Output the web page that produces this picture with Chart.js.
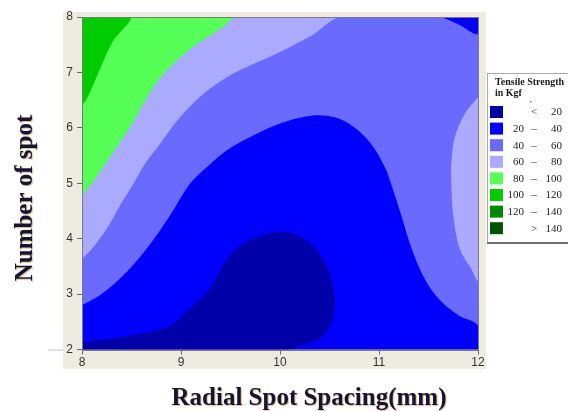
<!DOCTYPE html>
<html><head><meta charset="utf-8">
<style>html,body{margin:0;padding:0;background:#fff;overflow:hidden}</style>
<script src="https://cdn.jsdelivr.net/npm/chart.js@4/dist/chart.umd.min.js"></script>
</head><body>
<canvas id="c" width="568" height="411"></canvas>
<script>
// ---- data ----
const xTicks = [8, 9, 10, 11, 12];
const yTicks = [2, 3, 4, 5, 6, 7, 8];
const xTitle = 'Radial Spot Spacing(mm)';
const yTitle = 'Number of spot';
const legendTitle = ['Tensile Strength', 'in Kgf'];
const bandLow  = ['',  '20', '40', '60', '80', '100', '120', ''];
const bandSep  = ['<', '–',  '–',  '–',  '–',  '–',   '–',   '>'];
const bandHigh = ['20','40', '60', '80', '100','120', '140', '140'];
const bandColors = ['#0000a8', '#0000ff', '#6a6aff', '#aaaaff', '#55ff55', '#00cc00', '#008a00', '#005500'];

// plot frame corners (x, y)
const frame = [[8, 2], [12, 2], [12, 8], [8, 8]];
// contour lines (x = spacing, y = number of spot)
const contour100 = [[8, 6.43], [8.03, 6.46], [8.131, 6.85], [8.232, 7.27], [8.315, 7.57], [8.485, 8]];
const contour80 = [[8, 4.77], [8.098, 4.99], [8.215, 5.29], [8.35, 5.65], [8.485, 6.01], [8.619, 6.43],
  [8.754, 6.82], [8.922, 7.15], [9.158, 7.51], [9.394, 7.78], [9.579, 8]];
const contour60 = [[8, 3.63], [8.114, 3.85], [8.25, 4.18], [8.384, 4.6], [8.52, 4.99], [8.636, 5.35],
  [8.788, 5.71], [8.99, 6.19], [9.225, 6.61], [9.46, 6.91], [9.73, 7.15], [10.0, 7.37], [10.316, 7.66], [10.62, 8]];
const contour60right = [[12, 6.55], [11.865, 6.25], [11.765, 5.83], [11.73, 5.35], [11.73, 4.99], [11.75, 4.42],
  [11.815, 3.82], [11.93, 3.46], [12, 3.25]];
const contour40 = [[8, 2.8], [8.18, 2.98], [8.384, 3.28], [8.653, 3.82], [8.889, 4.42], [9.09, 4.99], [9.26, 5.29],
  [9.46, 5.59], [9.73, 5.86], [10.0, 6.08], [10.316, 6.22], [10.55, 6.19], [10.75, 6.01], [10.92, 5.71],
  [11.06, 5.29], [11.12, 5.0], [11.225, 4.42], [11.33, 3.82], [11.46, 3.28], [11.6, 2.92], [11.8, 2.62], [12, 2.43]];
const contour40corner = [[11.63, 8], [11.8, 7.87], [12, 7.69]];
const contour20 = [[8, 2.13], [8.485, 2.25], [8.889, 2.43], [9.09, 2.74], [9.293, 3.1], [9.427, 3.52], [9.56, 3.82],
  [9.765, 4.03], [10.0, 4.12], [10.18, 4.06], [10.35, 3.85], [10.48, 3.46], [10.55, 2.98], [10.535, 2.55],
  [10.42, 2.22], [10.215, 2.07], [10.08, 2.0]];

// ---- build polygons ----
const pt = p => ({x: p[0], y: p[1]});
const closeUp = pts => pts.concat([pts[0]]).map(pt);
const C = {bl: frame[0], br: frame[1], tr: frame[2], tl: frame[3]};

function band(data, color, order) {
  return {data, backgroundColor: color, borderColor: 'rgba(0,0,0,0)', borderWidth: 0,
    pointRadius: 0, showLine: true, fill: 'shape', tension: 0.35, order};
}
const datasets = [
  band(closeUp(frame), bandColors[4], 8),
  band(closeUp(contour80.concat([C.tr, C.br, C.bl])), bandColors[3], 7),
  band(closeUp(contour60.concat([C.tr, C.br, C.bl])), bandColors[2], 6),
  band(closeUp(contour60right), bandColors[3], 5),
  band(closeUp(contour40.concat([C.br, C.bl])), bandColors[1], 4),
  band(closeUp(contour40corner.concat([C.tr])), bandColors[1], 3),
  band(closeUp(contour20.concat([C.bl])), bandColors[0], 2),
  band(closeUp(contour100.concat([C.tl])), bandColors[5], 1)
];

const panelPlugin = {
  id: 'panel',
  beforeDraw(chart) {
    const {ctx, chartArea: a} = chart;
    ctx.save();
    ctx.fillStyle = '#efebe0';
    ctx.fillRect(a.left - 19, a.top - 5, a.right - a.left + 27, a.bottom - a.top + 24.5);
    ctx.strokeStyle = '#c8c8c8';
    ctx.lineWidth = 1;
    ctx.beginPath(); ctx.moveTo(48, a.bottom + 0.5); ctx.lineTo(a.left - 19, a.bottom + 0.5); ctx.stroke();
    ctx.restore();
  },
  afterDatasetsDraw(chart) {
    const {ctx, chartArea: a} = chart;
    ctx.save();
    ctx.strokeStyle = '#7a7a7a';
    ctx.lineWidth = 1;
    ctx.strokeRect(Math.round(a.left) + 0.5, Math.round(a.top) + 0.5, Math.round(a.right - a.left), Math.round(a.bottom - a.top));
    ctx.restore();
  }
};

const titlePlugin = {
  id: 'titles',
  afterDraw(chart) {
    const {ctx, chartArea: a} = chart;
    ctx.save();
    ctx.font = 'bold 25px "Liberation Serif", "Times New Roman", serif';
    ctx.fillStyle = '#151530';
    ctx.shadowColor = 'rgba(190,130,60,0.55)';
    ctx.shadowOffsetX = 1; ctx.shadowOffsetY = 1; ctx.shadowBlur = 1;
    ctx.textAlign = 'center'; ctx.textBaseline = 'middle';
    ctx.fillText(xTitle, a.left + 227, a.bottom + 49);
    ctx.translate(26, a.top + 181);
    ctx.rotate(-Math.PI / 2);
    ctx.fillText(yTitle, 0, 0);
    ctx.restore();
  }
};

const legendPlugin = {
  id: 'bandLegend',
  afterDraw(chart) {
    const ctx = chart.ctx;
    const L = 487, T = 73, W = 90, H = 170;
    ctx.save();
    ctx.fillStyle = '#ffffff';
    ctx.fillRect(L, T, W, H);
    ctx.strokeStyle = '#a8a8a8'; ctx.lineWidth = 1;
    ctx.strokeRect(L + 0.5, T + 0.5, W, H - 1);
    ctx.strokeStyle = '#707070'; ctx.lineWidth = 2;
    ctx.beginPath(); ctx.moveTo(L, T + H); ctx.lineTo(L + W, T + H); ctx.stroke();
    ctx.fillStyle = '#1a1a1a';
    ctx.font = 'bold 10px "Liberation Serif", serif';
    ctx.textAlign = 'left'; ctx.textBaseline = 'middle';
    ctx.fillText(legendTitle[0], L + 8, T + 9);
    ctx.fillText(legendTitle[1], L + 8, T + 20);
    ctx.fillStyle = '#888'; ctx.fillRect(L + 43, T + 28, 1.5, 1.5);
    ctx.font = '11px "Liberation Serif", serif';
    for (let i = 0; i < bandColors.length; i++) {
      const yTop = T + 33 + i * 16.6;
      ctx.fillStyle = bandColors[i];
      ctx.fillRect(L + 3, yTop, 13, 12);
      const yc = yTop + 6.5;
      ctx.fillStyle = '#222';
      ctx.textAlign = 'right';
      ctx.fillText(bandLow[i], L + 37, yc);
      ctx.fillText(bandHigh[i], L + 75, yc);
      ctx.textAlign = 'center';
      ctx.fillText(bandSep[i], L + 47, yc);
    }
    ctx.restore();
  }
};

const tickFont = {family: '"Liberation Sans", Arial, sans-serif', size: 12};
new Chart(document.getElementById('c'), {
  type: 'scatter',
  data: {datasets},
  options: {
    responsive: false, animation: false, devicePixelRatio: 1, events: [],
    layout: {padding: {top: 17, right: 90, bottom: 0, left: 0}},
    plugins: {legend: {display: false}, tooltip: {enabled: false}},
    scales: {
      x: {type: 'linear', min: 8, max: 12,
        afterBuildTicks: s => { s.ticks = xTicks.map(v => ({value: v})); },
        afterFit: s => { s.height = 61.5; },
        ticks: {color: '#333', font: tickFont, padding: 1},
        grid: {drawOnChartArea: false, drawTicks: true, tickLength: 5, color: '#666'},
        border: {color: '#666'}},
      y: {type: 'linear', min: 2, max: 8,
        afterBuildTicks: s => { s.ticks = yTicks.map(v => ({value: v})); },
        afterFit: s => { s.width = 82; },
        ticks: {color: '#333', font: tickFont, padding: 4},
        grid: {drawOnChartArea: false, drawTicks: true, tickLength: 5, color: '#666'},
        border: {color: '#666'}}
    }
  },
  plugins: [panelPlugin, titlePlugin, legendPlugin]
});
</script>
</body></html>
